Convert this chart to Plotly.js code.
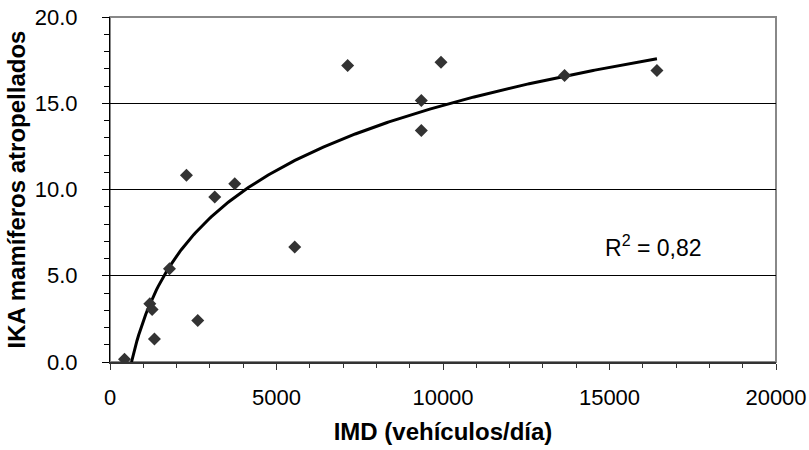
<!DOCTYPE html>
<html>
<head>
<meta charset="utf-8">
<script src="https://cdn.plot.ly/plotly-3.0.1.min.js"></script>
<style>html,body{margin:0;padding:0;background:#fff;}#chart{width:809px;height:450px;}</style>
</head>
<body>
<div id="chart"></div>
<script>
// IMD (vehicles/day) and IKA (mammal roadkill index)
var imd = [435, 1195, 1265, 1335, 1786, 2296, 2636, 3146, 3746, 5547, 7137, 9349, 9349, 9940, 13650, 16425];
var ika = [0.16, 3.38, 3.05, 1.33, 5.41, 10.82, 2.40, 9.56, 10.33, 6.66, 17.19, 15.16, 13.42, 17.38, 16.61, 16.90];
var xTickVals = [0, 5000, 10000, 15000, 20000];
var xTickText = ['0', '5000', '10000', '15000', '20000'];
var yTickVals = [0, 5, 10, 15, 20];
var yTickText = ['0.0', '5.0', '10.0', '15.0', '20.0'];
var r2Label = 'R<sup>2</sup> = 0,82';

// logarithmic least-squares trendline computed from the data
var n = imd.length, sL = 0, sY = 0;
for (var i = 0; i < n; i++) { sL += Math.log(imd[i]); sY += ika[i]; }
var mL = sL / n, mY = sY / n, sxy = 0, sxx = 0;
for (i = 0; i < n; i++) { var d = Math.log(imd[i]) - mL; sxy += d * (ika[i] - mY); sxx += d * d; }
var a = sxy / sxx, b = mY - a * mL;
var xmin = Math.min.apply(null, imd), xmax = Math.max.apply(null, imd);
var tx = [], ty = [];
for (i = 0; i <= 300; i++) {
  var xv = xmin + (xmax - xmin) * i / 300;
  var yv = a * Math.log(xv) + b;
  if (yv < 0) continue;
  tx.push(xv); ty.push(yv);
}
var x0 = Math.exp(-b / a);
if (x0 > xmin) { tx.unshift(x0); ty.unshift(0); }

var font = 'Liberation Sans, Arial, sans-serif';
var traces = [
  {x: tx, y: ty, mode: 'lines', line: {color: '#000', width: 3}, hoverinfo: 'skip', showlegend: false},
  {x: imd, y: ika, mode: 'markers', marker: {symbol: 'diamond', size: 10, color: '#333333'}, showlegend: false}
];
var layout = {
  width: 809, height: 450,
  margin: {l: 109.5, r: 33, t: 16.7, b: 88.3},
  paper_bgcolor: '#fff', plot_bgcolor: '#fff',
  font: {family: font, color: '#000'},
  showlegend: false,
  xaxis: {
    range: [0, 20000], tickvals: xTickVals, ticktext: xTickText,
    showgrid: false, zeroline: false,
    showline: true, linecolor: '#333', linewidth: 2,
    ticks: 'outside', ticklen: 6, tickcolor: '#333', tickwidth: 1,
    minor: {dtick: 1000, ticks: 'outside', ticklen: 4, tickcolor: '#333', showgrid: false},
    tickfont: {size: 22, family: font, color: '#000'},
    ticklabelstandoff: 9,
    title: {text: '<b>IMD (vehículos/día)</b>', font: {size: 24, family: font, color: '#000'}, standoff: 14}
  },
  yaxis: {
    range: [0, 20], tickvals: yTickVals, ticktext: yTickText,
    showgrid: true, gridcolor: '#000', gridwidth: 1, zeroline: false,
    showline: true, linecolor: '#000', linewidth: 1,
    ticks: 'outside', ticklen: 7, tickcolor: '#000', tickwidth: 1,
    minor: {dtick: 1, ticks: 'outside', ticklen: 5, tickcolor: '#000', showgrid: false},
    tickfont: {size: 22, family: font, color: '#000'},
    ticklabelstandoff: 20,
    title: {text: '<b>IKA mamíferos atropellados</b>', font: {size: 24, family: font, color: '#000'}, standoff: 2}
  },
  shapes: [
    {type: 'rect', xref: 'paper', yref: 'paper', x0: 0, x1: 1, y0: 0, y1: 1,
     line: {color: '#888', width: 2}, fillcolor: 'rgba(0,0,0,0)', layer: 'below'}
  ],
  annotations: [
    {x: 16310, y: 6.7, xref: 'x', yref: 'y', text: r2Label, showarrow: false,
     font: {size: 23, family: font, color: '#000'}}
  ]
};
Plotly.newPlot('chart', traces, layout, {staticPlot: true});
</script>
</body>
</html>
